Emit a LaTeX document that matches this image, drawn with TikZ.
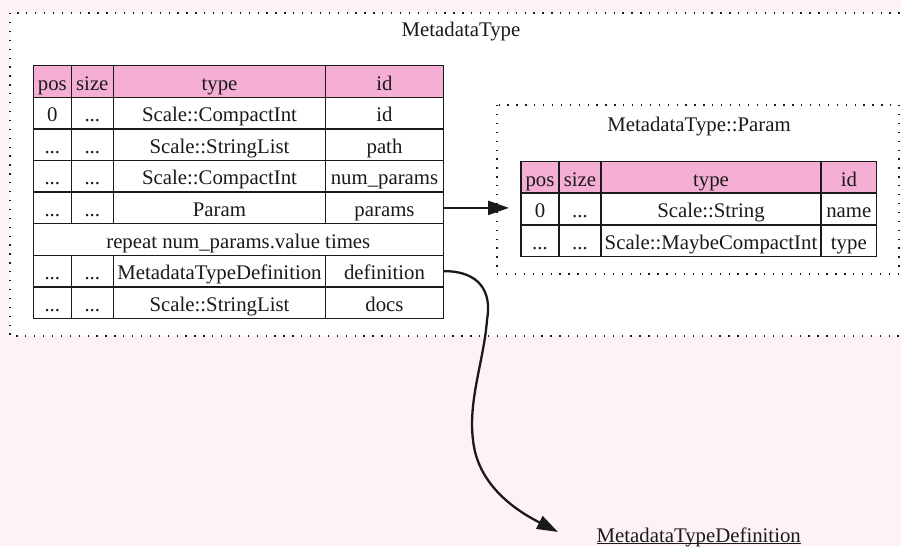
\documentclass[tikz,border=0pt]{standalone}
\usepackage{fontspec}
\setmainfont{Liberation Serif}
\usetikzlibrary{arrows.meta}
\definecolor{pagebg}{HTML}{FDF2F8}
\definecolor{hdr}{HTML}{F5AED4}
\definecolor{ink}{HTML}{1A1A1A}
\newcommand\bigfont{\fontsize{20.8}{25}\selectfont}
% left table row: [style]{name}{y top}{pos}{size}{type}{id}
\newcommand\lrow[7][]{%
  \node[cell,#1,minimum width=38pt]    (#2a) at (33.3,#3)  {#4};
  \node[cell,#1,minimum width=42pt]    (#2b) at (71.3,#3)  {#5};
  \node[cell,#1,minimum width=212.4pt] (#2c) at (113.3,#3) {#6};
  \node[cell,#1,minimum width=117.6pt] (#2d) at (325.7,#3) {#7};}
% right table row
\newcommand\rrow[7][]{%
  \node[cell,#1,minimum width=38pt]    (#2a) at (521,#3) {#4};
  \node[cell,#1,minimum width=42pt]    (#2b) at (559,#3) {#5};
  \node[cell,#1,minimum width=220pt]   (#2c) at (601,#3) {#6};
  \node[cell,#1,minimum width=55.7pt]  (#2d) at (821,#3) {#7};}
\begin{document}
\begin{tikzpicture}[x=1pt,y=-1pt,
  txt/.style={font=\bigfont, inner sep=0pt, outer sep=0pt, anchor=base, text=ink},
  cell/.style={draw=ink, line width=1.5pt, anchor=north west, minimum height=31.6pt,
    inner sep=0pt, outer sep=0pt, text height=19.2pt, text depth=2pt, font=\bigfont, text=ink},
  headcell/.style={fill=hdr},
  cluster/.style={draw=ink, line width=1.3pt, dash pattern=on 1.3pt off 7.6pt, fill=white},
  link/.style={draw=ink, line width=2.3pt, -{Triangle[length=21pt,width=14pt]}}]
\useasboundingbox (0,0) rectangle (901,546);
\fill[pagebg] (0,0) rectangle (901,546);
\begin{scope}
  \clip (0,0) rectangle (901,546);
  \draw[cluster] (10,13) rectangle (915,336);
\end{scope}
\draw[cluster] (497,105) rectangle (899,274);

\node[txt] (title1) at (461,36) {MetadataType};
\node[txt] (title2) at (699,131) {MetadataType::Param};

% left table
\lrow[headcell]{LH}{65.7}{pos}{size}{type}{id}
\lrow{LA}{97.3}{0}{...}{Scale::CompactInt}{id}
\lrow{LB}{128.9}{...}{...}{Scale::StringList}{path}
\lrow{LC}{160.5}{...}{...}{Scale::CompactInt}{num\_params}
\lrow{LD}{192.1}{...}{...}{Param}{params}
\node[cell,minimum width=410pt] (LR) at (33.3,223.7) {repeat num\_params.value times};
\lrow{LE}{255.3}{...}{...}{MetadataTypeDefinition}{definition}
\lrow{LF}{286.9}{...}{...}{Scale::StringList}{docs}

% right table
\rrow[headcell]{RH}{161.7}{pos}{size}{type}{id}
\rrow{RA}{193.2}{0}{...}{Scale::String}{name}
\rrow{RB}{224.7}{...}{...}{Scale::MaybeCompactInt}{type}

% bottom label
\node[txt] (mtd) at (698.7,542.5) {MetadataTypeDefinition};
\draw[ink, line width=1.1pt] ([yshift=-0.8pt]mtd.base west) -- ([yshift=-0.8pt]mtd.base east);
\coordinate (deftip) at (558,532);

% connectors
\draw[link, shorten >=12pt] (LDd.east) -- (RAa.west |- LDd.east);
\draw[link] (LEd.east) .. controls (480,271) and (492,292) .. (487,320)
  .. controls (484,360) and (468,400) .. (473,440)
  .. controls (478,490) and (525,515) .. (deftip);
\end{tikzpicture}
\end{document}
